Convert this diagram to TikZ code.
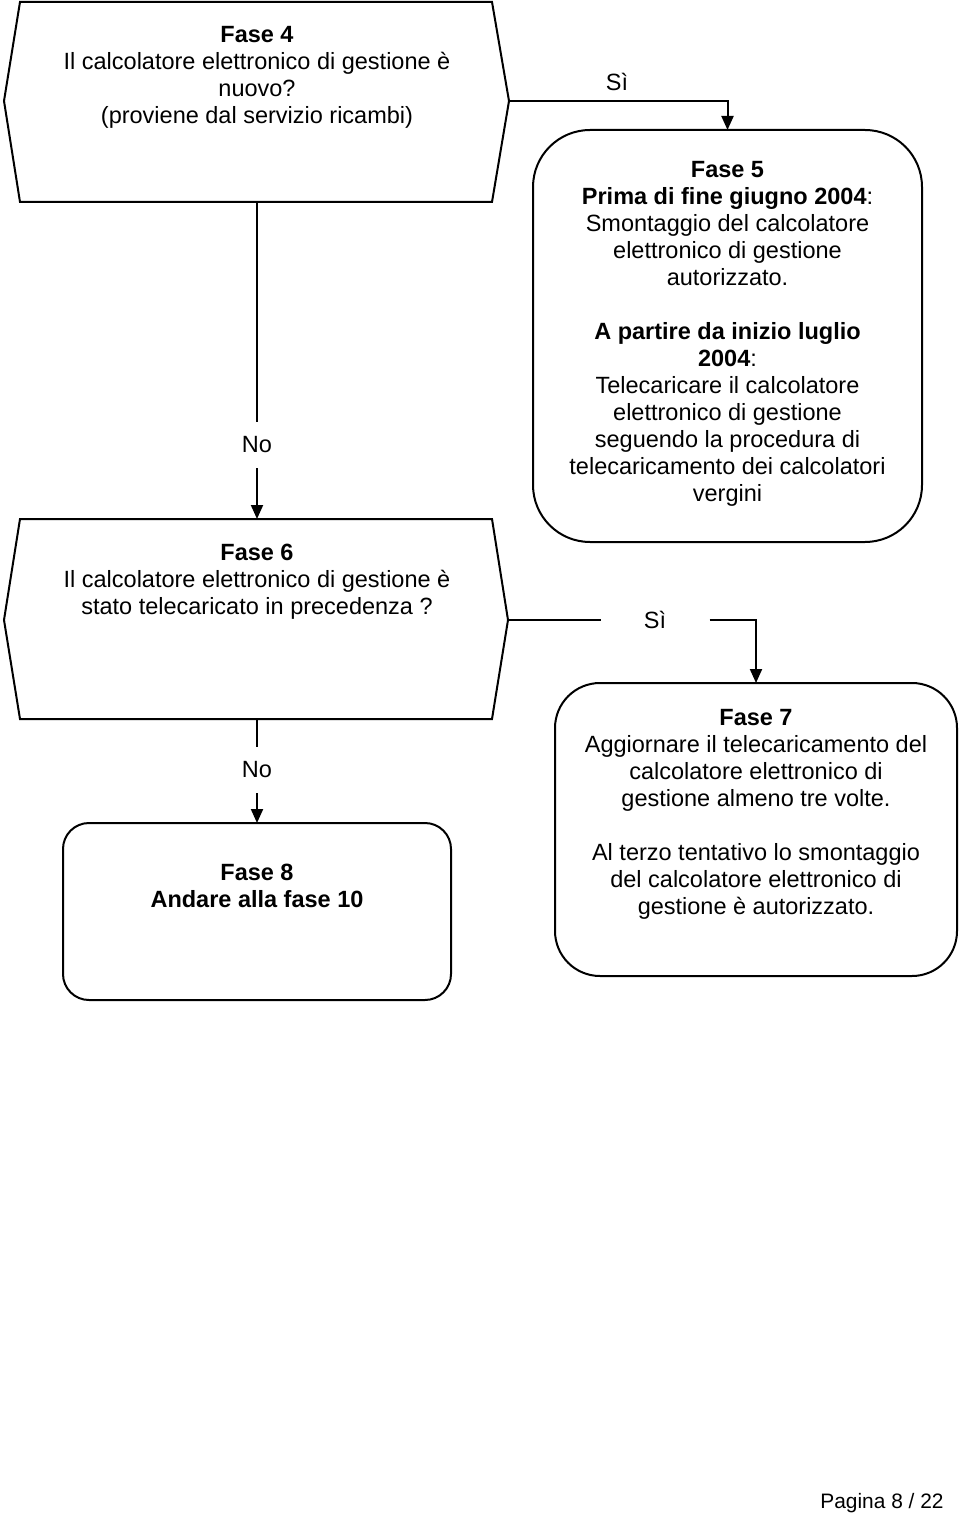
\documentclass[tikz,border=0pt]{standalone}
\usepackage{fontspec}
\setmainfont{Liberation Sans}
\usetikzlibrary{arrows.meta}
\begin{document}
\begin{tikzpicture}[x=0.5pt,y=-0.5pt,
  every path/.style={line width=1pt},
  shapeline/.style={draw=black, line width=1pt},
  arr/.style={-{Triangle[width=6pt,length=7pt]}},
  txt/.style={align=center, inner sep=0pt, font=\fontsize{11.75}{13.5}\selectfont},
  lbl/.style={inner sep=0pt, font=\fontsize{11.75}{13.5}\selectfont},
  boxf/.style={draw, line width=1pt, inner sep=0pt, outer sep=0pt}
]
\useasboundingbox (0,0) rectangle (960,1518);

% Fase 4 decision
\draw[shapeline] (20,2) -- (492,2) -- (509,101) -- (492,202) -- (20,202) -- (4,101) -- cycle;
\coordinate (f4r) at (509,101);
\coordinate (f4b) at (257,202);
\node[txt] (t4) at (257,77) {\textbf{Fase 4}\\Il calcolatore elettronico di gestione è\\nuovo?\\(proviene dal servizio ricambi)};

% Fase 5 box
\node[boxf, rounded corners=28.5pt, minimum width=194.5pt, minimum height=206pt] (f5) at (727.5,336) {};
\node[txt] (t5) at (727.5,333.5) {\textbf{Fase 5}\\\textbf{Prima di fine giugno 2004}:\\Smontaggio del calcolatore\\elettronico di gestione\\autorizzato.\\[13.5pt]\textbf{A partire da inizio luglio}\\\textbf{2004}:\\Telecaricare il calcolatore\\elettronico di gestione\\seguendo la procedura di\\telecaricamento dei calcolatori\\vergini};

% Fase 6 decision
\draw[shapeline] (20,519) -- (492,519) -- (508,620) -- (492,719) -- (20,719) -- (4,620) -- cycle;
\coordinate (f6r) at (508,620);
\coordinate (f6t) at (257,519);
\coordinate (f6b) at (257,719);
\node[txt] (t6) at (257,581.5) {\textbf{Fase 6}\\Il calcolatore elettronico di gestione è\\stato telecaricato in precedenza ?};

% Fase 7 box
\node[boxf, rounded corners=22.5pt, minimum width=201pt, minimum height=146.5pt] (f7) at (756,829.5) {};
\node[txt] (t7) at (756,814) {\textbf{Fase 7}\\Aggiornare il telecaricamento del\\calcolatore elettronico di\\gestione almeno tre volte.\\[13.5pt]Al terzo tentativo lo smontaggio\\del calcolatore elettronico di\\gestione è autorizzato.};

% Fase 8 box
\node[boxf, rounded corners=13pt, minimum width=194pt, minimum height=88.5pt] (f8) at (257,911.5) {};
\node[txt] (t8) at (257,885.5) {\textbf{Fase 8}\\\textbf{Andare alla fase 10}};

% connectors
\node[lbl] (si1) at (617,82) {Sì};
\draw[arr] (f4r) -| (f5.north);

\node[lbl, minimum width=53.5pt, minimum height=10pt] (si2) at (655,620) {Sì};
\draw (f6r) -- (si2.west);
\draw[arr] (si2.east) -| (f7.north);

\node[lbl, minimum height=22pt] (no1) at (257,445) {No};
\draw (f4b) -- (no1.north);
\draw[arr] (no1.south) -- (f6t);

\node[lbl, minimum height=22pt] (no2) at (257,770) {No};
\draw (f6b) -- (no2.north);
\draw[arr] (no2.south) -- (f8.north);

% footer
\node[inner sep=0pt, font=\fontsize{10.45}{12}\selectfont] (pg) at (882,1503) {Pagina 8 / 22};
\end{tikzpicture}
\end{document}
